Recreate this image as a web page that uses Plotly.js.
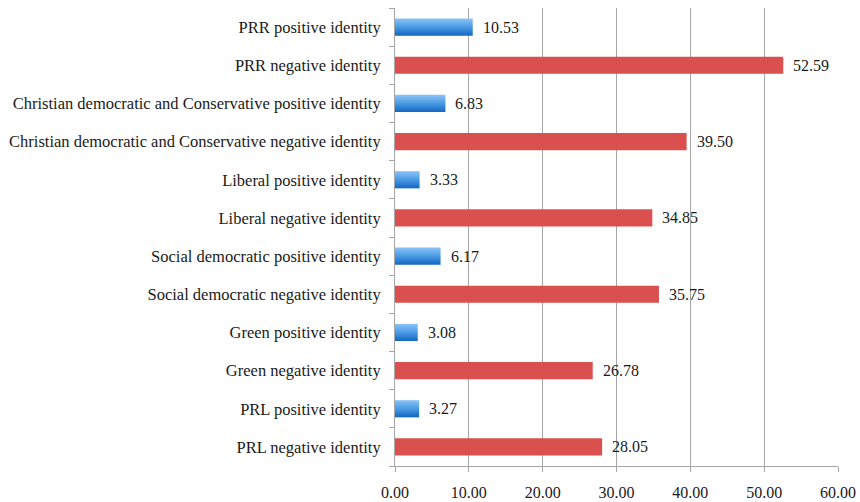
<!DOCTYPE html>
<html>
<head>
<meta charset="utf-8">
<script src="https://cdn.plot.ly/plotly-3.0.1.min.js"></script>
<style>
  html, body { margin: 0; padding: 0; background: #fff; }
  #chart { width: 860px; height: 502px; }
</style>
</head>
<body>
<div id="chart"></div>
<script>
// Categories, bottom to top
const categories = [
  "PRL negative identity",
  "PRL positive identity",
  "Green negative identity",
  "Green positive identity",
  "Social democratic negative identity",
  "Social democratic positive identity",
  "Liberal negative identity",
  "Liberal positive identity",
  "Christian democratic and Conservative negative identity",
  "Christian democratic and Conservative positive identity",
  "PRR negative identity",
  "PRR positive identity"
];

const negativeCats = [
  "PRL negative identity",
  "Green negative identity",
  "Social democratic negative identity",
  "Liberal negative identity",
  "Christian democratic and Conservative negative identity",
  "PRR negative identity"
];
const negativeValues = [28.05, 26.78, 35.75, 34.85, 39.50, 52.59];

const positiveCats = [
  "PRL positive identity",
  "Green positive identity",
  "Social democratic positive identity",
  "Liberal positive identity",
  "Christian democratic and Conservative positive identity",
  "PRR positive identity"
];
const positiveValues = [3.27, 3.08, 6.17, 3.33, 6.83, 10.53];

const tickValues = [0, 10, 20, 30, 40, 50, 60];

const serif = "Liberation Serif, Times New Roman, serif";
const textColor = "#1a1a1a";

const traces = [
  {
    type: "bar", orientation: "h",
    x: negativeValues, y: negativeCats,
    width: 0.45,
    marker: { color: "#d9504e", line: { width: 0 } },
    hoverinfo: "x+y", name: "negative"
  },
  {
    type: "bar", orientation: "h",
    x: positiveValues, y: positiveCats,
    width: 0.45,
    marker: { color: "#3a8fe0", line: { width: 0 } },
    hoverinfo: "x+y", name: "positive"
  }
];

// Value labels placed just beyond each bar end
const annotations = [];
function addLabels(cats, vals) {
  cats.forEach((c, i) => {
    annotations.push({
      x: vals[i], y: c, xref: "x", yref: "y",
      text: vals[i].toFixed(2), showarrow: false,
      xanchor: "left", xshift: 8,
      font: { family: serif, size: 16, color: textColor }
    });
  });
}
addLabels(negativeCats, negativeValues);
addLabels(positiveCats, positiveValues);

const layout = {
  width: 860, height: 502,
  margin: { l: 395, r: 22, t: 8, b: 36 },
  paper_bgcolor: "#fff", plot_bgcolor: "#fff",
  showlegend: false,
  barmode: "overlay",
  font: { family: serif, size: 16, color: textColor },
  xaxis: {
    range: [0, 60],
    tickvals: tickValues,
    ticktext: tickValues.map(v => v.toFixed(2)),
    showgrid: true, gridcolor: "#a6a6a6", gridwidth: 1,
    zeroline: false,
    showline: true, linecolor: "#a6a6a6", linewidth: 1,
    ticks: "outside", ticklen: 5, tickcolor: "#a6a6a6",
    tickfont: { family: serif, size: 16, color: textColor },
    ticklabelstandoff: 7,
    fixedrange: true
  },
  yaxis: {
    type: "category",
    categoryorder: "array", categoryarray: categories,
    range: [-0.5, categories.length - 0.5],
    showgrid: false, zeroline: false,
    showline: true, linecolor: "#a6a6a6", linewidth: 1,
    ticks: "outside", ticklen: 5, tickcolor: "#a6a6a6",
    tickson: "boundaries",
    tickfont: { family: serif, size: 16.5, color: textColor },
    ticklabelstandoff: 10,
    fixedrange: true
  },
  annotations: annotations
};

Plotly.newPlot("chart", traces, layout, { displayModeBar: false, staticPlot: true }).then(gd => {
  // Vertical light-to-dark gradient on the positive-identity bars
  const svg = gd.querySelector(".main-svg");
  const ns = "http://www.w3.org/2000/svg";
  let defs = svg.querySelector("defs");
  if (!defs) { defs = document.createElementNS(ns, "defs"); svg.insertBefore(defs, svg.firstChild); }
  const grad = document.createElementNS(ns, "linearGradient");
  grad.setAttribute("id", "posGrad");
  grad.setAttribute("x1", "0"); grad.setAttribute("y1", "0");
  grad.setAttribute("x2", "0"); grad.setAttribute("y2", "1");
  [["0", "#8cc4f5"], ["0.45", "#4f9fe8"], ["1", "#1466c0"]].forEach(([o, c]) => {
    const s = document.createElementNS(ns, "stop");
    s.setAttribute("offset", o); s.setAttribute("stop-color", c);
    grad.appendChild(s);
  });
  defs.appendChild(grad);
  const groups = gd.querySelectorAll(".barlayer .trace.bars");
  if (groups[1]) {
    groups[1].querySelectorAll("path").forEach(p => { p.style.fill = "url(#posGrad)"; });
  }
});
</script>
</body>
</html>
